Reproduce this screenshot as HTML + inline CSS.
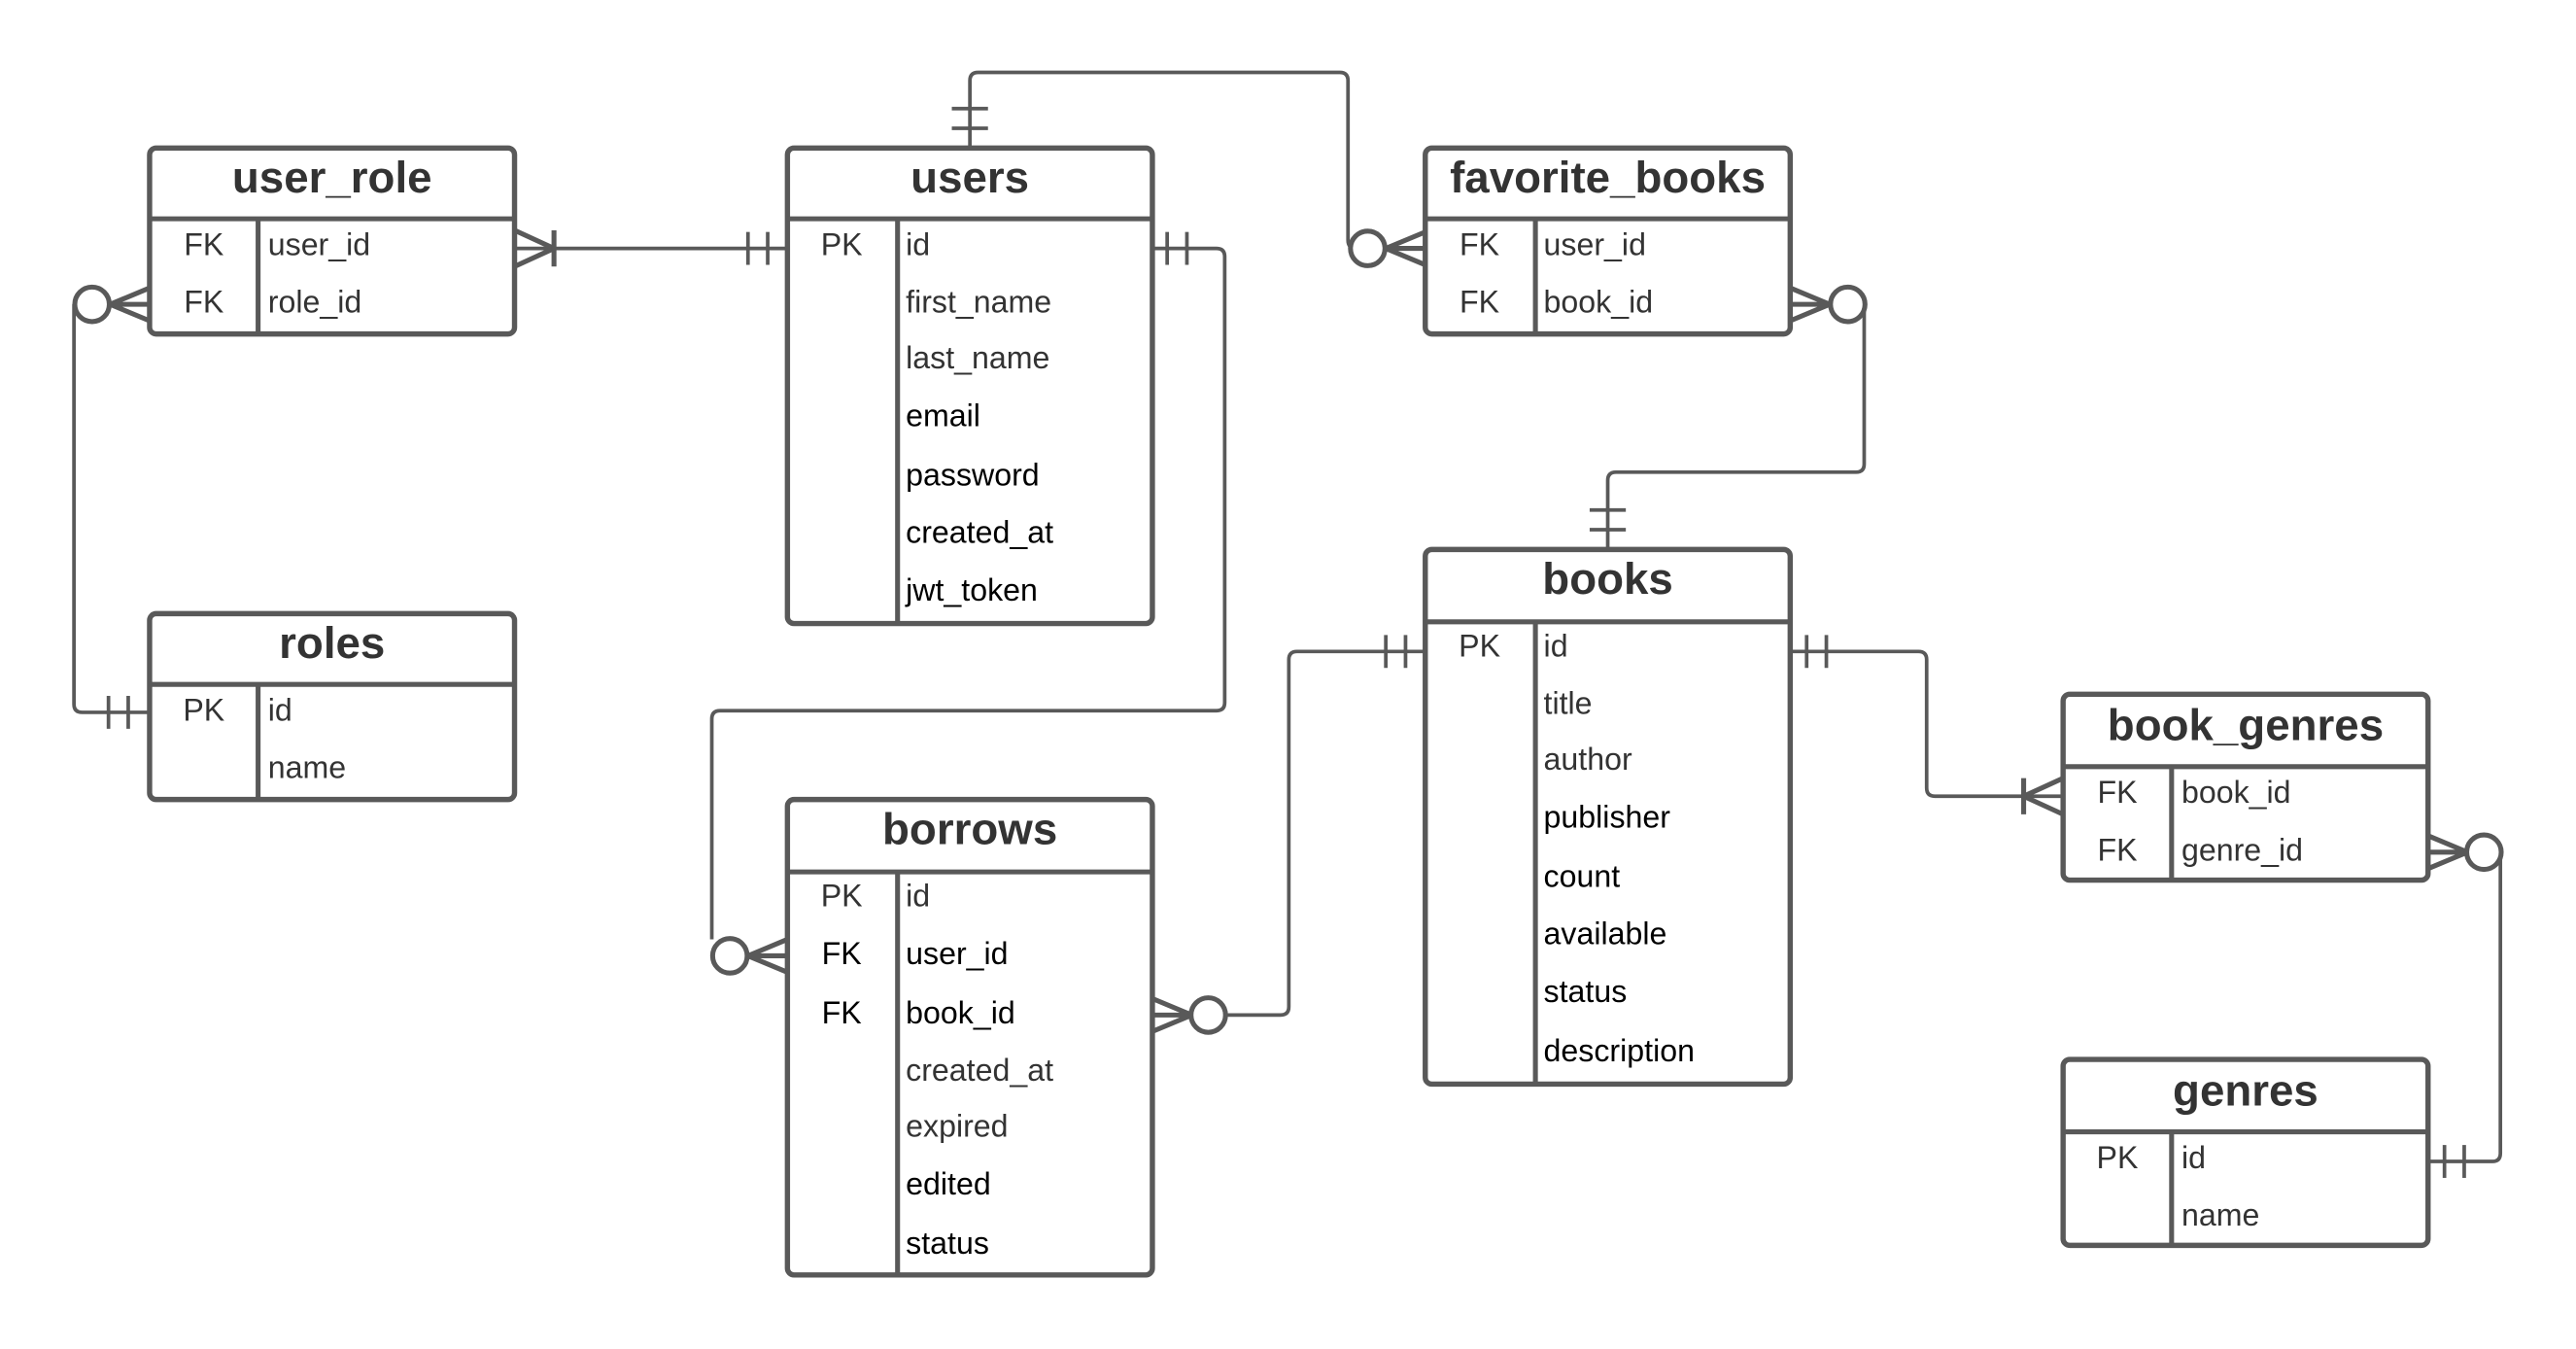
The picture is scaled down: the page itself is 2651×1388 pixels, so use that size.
<!DOCTYPE html>
<html><head><meta charset="utf-8"><style>
html,body{margin:0;padding:0;background:#fff;width:2651px;height:1388px;overflow:hidden}
svg{display:block}
text{font-family:"Liberation Sans",sans-serif}
.t{font-size:27px;font-weight:bold;fill:#333;text-anchor:middle}
.k{font-size:19px;fill:#333;text-anchor:middle}
.f{font-size:19px;fill:#333}
.b{fill:#000}
.box{fill:#fff;stroke:#595959;stroke-width:3.2}
.ln{stroke:#595959;stroke-width:2.2;fill:none}
.ln3{stroke:#595959;stroke-width:3;fill:none}
</style></head><body>
<svg width="2651" height="1388" viewBox="0 0 1567 820" preserveAspectRatio="none">
<g class="ln">
<path d="M590 90 V49 Q590 44 595 44 H815 Q820 44 820 49 V146 Q820 151 825 151 H867"/>
<line x1="579" y1="66" x2="601" y2="66"/><line x1="579" y1="78" x2="601" y2="78"/>
<line x1="313" y1="151" x2="479" y2="151"/>
<line x1="455" y1="141" x2="455" y2="161"/><line x1="467" y1="141" x2="467" y2="161"/>
<path d="M45 185 V428 Q45 433 50 433 H91"/>
<line x1="66" y1="423" x2="66" y2="443"/><line x1="78" y1="423" x2="78" y2="443"/>
<path d="M701 151 H740 Q745 151 745 156 V427 Q745 432 740 432 H438 Q433 432 433 437 V571"/>
<line x1="710" y1="141" x2="710" y2="161"/><line x1="722" y1="141" x2="722" y2="161"/>
<path d="M1134 185 V282 Q1134 287 1129 287 H983 Q978 287 978 292 V334"/>
<line x1="967" y1="310" x2="989" y2="310"/><line x1="967" y1="322" x2="989" y2="322"/>
<path d="M745 617 H779 Q784 617 784 612 V401 Q784 396 789 396 H867"/>
<line x1="843" y1="386" x2="843" y2="406"/><line x1="855" y1="386" x2="855" y2="406"/>
<path d="M1089 396 H1167 Q1172 396 1172 401 V479 Q1172 484 1177 484 H1255"/>
<line x1="1099" y1="386" x2="1099" y2="406"/><line x1="1111" y1="386" x2="1111" y2="406"/>
<path d="M1521 518 V701 Q1521 706 1516 706 H1477"/>
<line x1="1487" y1="696" x2="1487" y2="716"/><line x1="1499" y1="696" x2="1499" y2="716"/>
</g>
<g class="ln3">
<path d="M313 140 L337 151 L313 162"/><line x1="337" y1="140" x2="337" y2="162"/>
<path d="M91 175 L67 185 L91 195 M67 185 H91"/><circle cx="56" cy="185" r="10.5" fill="#fff"/>
<path d="M867 141 L843 151 L867 161 M843 151 H867"/><circle cx="832" cy="151" r="10.5" fill="#fff"/>
<path d="M1089 175 L1113 185 L1089 195 M1089 185 H1113"/><circle cx="1124" cy="185" r="10.5" fill="#fff"/>
<path d="M479 571 L455 581 L479 591 M455 581 H479"/><circle cx="444" cy="581" r="10.5" fill="#fff"/>
<path d="M701 607 L725 617 L701 627 M701 617 H725"/><circle cx="735" cy="617" r="10.5" fill="#fff"/>
<path d="M1255 473 L1231 484 L1255 495"/><line x1="1231" y1="473" x2="1231" y2="495"/>
<path d="M1477 508 L1501 518 L1477 528 M1477 518 H1501"/><circle cx="1511" cy="518" r="10.5" fill="#fff"/>
</g>

<rect class="box" x="91" y="90" width="222" height="113" rx="4"/>
<line class="ln3" x1="91" y1="133" x2="313" y2="133"/><line class="ln3" x1="157" y1="133" x2="157" y2="203"/>
<text class="t" x="202" y="117">user_role</text>
<text class="k" x="124" y="155">FK</text><text class="f" x="163" y="155">user_id</text>
<text class="k" x="124" y="190">FK</text><text class="f" x="163" y="190">role_id</text>

<rect class="box" x="479" y="90" width="222" height="289" rx="4"/>
<line class="ln3" x1="479" y1="133" x2="701" y2="133"/><line class="ln3" x1="546" y1="133" x2="546" y2="379"/>
<text class="t" x="590" y="117">users</text>
<text class="k" x="512" y="155">PK</text><text class="f" x="551" y="155">id</text>
<text class="f" x="551" y="190">first_name</text>
<text class="f" x="551" y="224">last_name</text>
<text class="f b" x="551" y="259">email</text>
<text class="f b" x="551" y="295">password</text>
<text class="f b" x="551" y="330">created_at</text>
<text class="f b" x="551" y="365">jwt_token</text>

<rect class="box" x="867" y="90" width="222" height="113" rx="4"/>
<line class="ln3" x1="867" y1="133" x2="1089" y2="133"/><line class="ln3" x1="934" y1="133" x2="934" y2="203"/>
<text class="t" x="978" y="117">favorite_books</text>
<text class="k" x="900" y="155">FK</text><text class="f" x="939" y="155">user_id</text>
<text class="k" x="900" y="190">FK</text><text class="f" x="939" y="190">book_id</text>

<rect class="box" x="91" y="373" width="222" height="113" rx="4"/>
<line class="ln3" x1="91" y1="416" x2="313" y2="416"/><line class="ln3" x1="157" y1="416" x2="157" y2="486"/>
<text class="t" x="202" y="400">roles</text>
<text class="k" x="124" y="438">PK</text><text class="f" x="163" y="438">id</text>
<text class="f" x="163" y="473">name</text>

<rect class="box" x="867" y="334" width="222" height="325" rx="4"/>
<line class="ln3" x1="867" y1="378" x2="1089" y2="378"/><line class="ln3" x1="934" y1="378" x2="934" y2="659"/>
<text class="t" x="978" y="361">books</text>
<text class="k" x="900" y="399">PK</text><text class="f" x="939" y="399">id</text>
<text class="f" x="939" y="434">title</text>
<text class="f" x="939" y="468">author</text>
<text class="f b" x="939" y="503">publisher</text>
<text class="f b" x="939" y="539">count</text>
<text class="f b" x="939" y="574">available</text>
<text class="f b" x="939" y="609">status</text>
<text class="f b" x="939" y="645">description</text>

<rect class="box" x="479" y="486" width="222" height="289" rx="4"/>
<line class="ln3" x1="479" y1="530" x2="701" y2="530"/><line class="ln3" x1="546" y1="530" x2="546" y2="775"/>
<text class="t" x="590" y="513">borrows</text>
<text class="k" x="512" y="551">PK</text><text class="f" x="551" y="551">id</text>
<text class="k b" x="512" y="586">FK</text><text class="f b" x="551" y="586">user_id</text>
<text class="k b" x="512" y="622">FK</text><text class="f b" x="551" y="622">book_id</text>
<text class="f" x="551" y="657">created_at</text>
<text class="f" x="551" y="691">expired</text>
<text class="f b" x="551" y="726">edited</text>
<text class="f b" x="551" y="762">status</text>

<rect class="box" x="1255" y="422" width="222" height="113" rx="4"/>
<line class="ln3" x1="1255" y1="466" x2="1477" y2="466"/><line class="ln3" x1="1321" y1="466" x2="1321" y2="535"/>
<text class="t" x="1366" y="450">book_genres</text>
<text class="k" x="1288" y="488">FK</text><text class="f" x="1327" y="488">book_id</text>
<text class="k" x="1288" y="523">FK</text><text class="f" x="1327" y="523">genre_id</text>

<rect class="box" x="1255" y="644" width="222" height="113" rx="4"/>
<line class="ln3" x1="1255" y1="688" x2="1477" y2="688"/><line class="ln3" x1="1321" y1="688" x2="1321" y2="757"/>
<text class="t" x="1366" y="672">genres</text>
<text class="k" x="1288" y="710">PK</text><text class="f" x="1327" y="710">id</text>
<text class="f" x="1327" y="745">name</text>
</svg>
</body></html>
